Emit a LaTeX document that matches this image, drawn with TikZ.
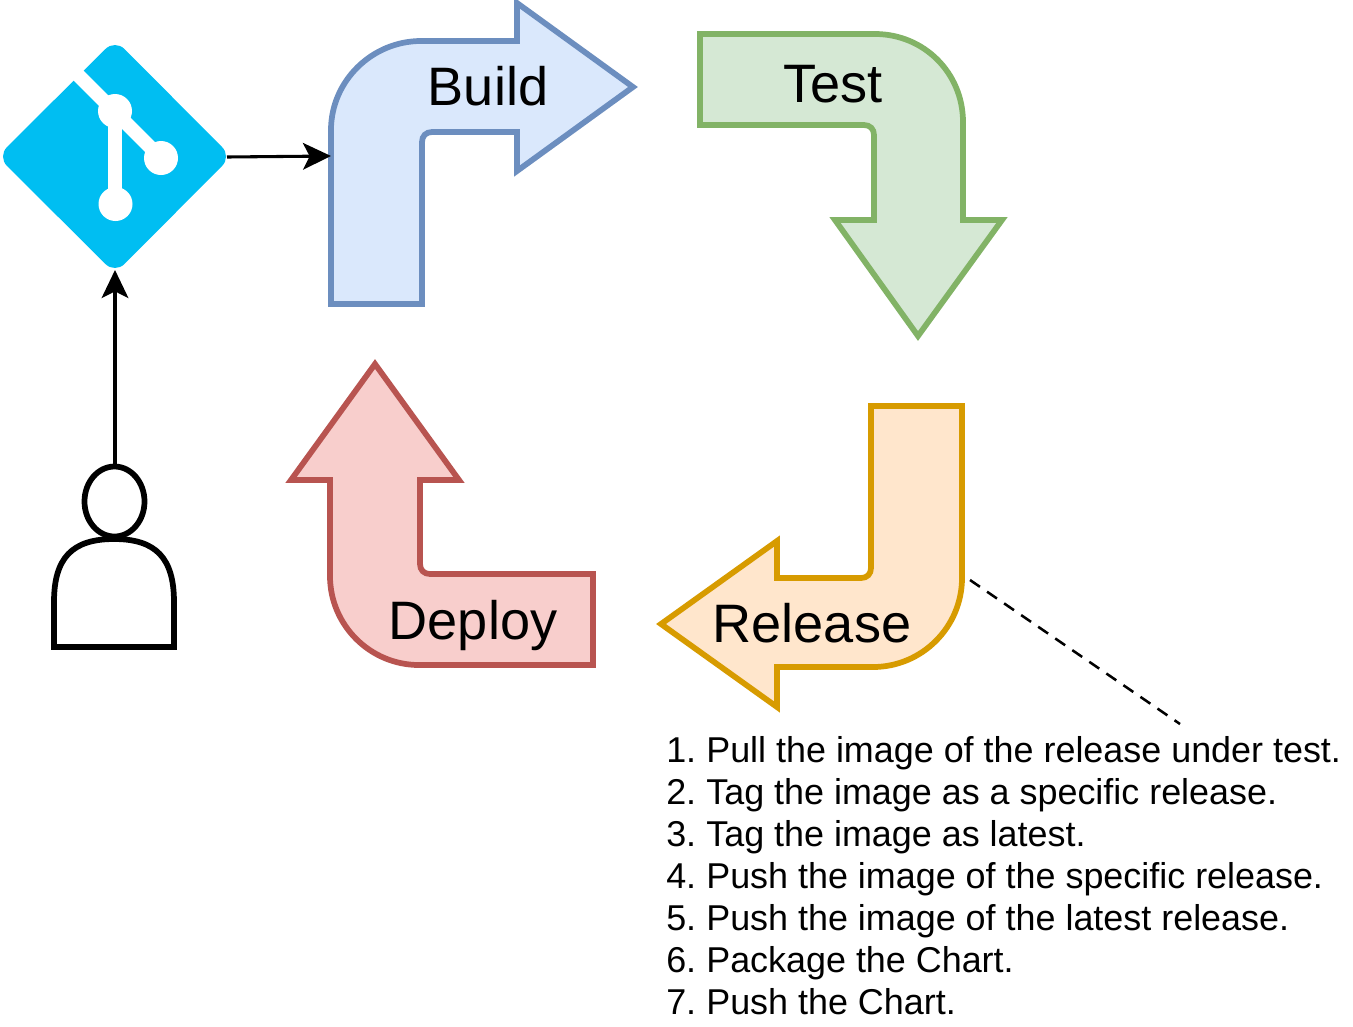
\documentclass[tikz,border=0pt]{standalone}
\usepackage{fontspec}
\setmainfont{Liberation Sans}
\usetikzlibrary{arrows.meta}
\definecolor{gitblue}{HTML}{00BEF2}
\definecolor{bfill}{HTML}{DAE8FC}\definecolor{bline}{HTML}{6C8EBF}
\definecolor{gfill}{HTML}{D5E8D4}\definecolor{gline}{HTML}{82B366}
\definecolor{ofill}{HTML}{FFE6CC}\definecolor{oline}{HTML}{D79B00}
\definecolor{rfill}{HTML}{F8CECC}\definecolor{rline}{HTML}{B85450}
\newcommand{\stepgap}{\hspace{-2.4pt}}
\tikzset{
  bent/.style={line width=4.3pt,line join=miter,miter limit=10},
  lbl/.style={anchor=base,inner sep=0pt,font=\fontsize{40.6}{48}\selectfont},
  conn/.style={line width=2.3pt,-{Stealth[length=21pt,width=20pt,inset=5pt]}},
  personline/.style={line width=4.3pt,draw=black},
}
\begin{document}
\begin{tikzpicture}[x=0.75pt,y=-0.75pt]
\useasboundingbox (0,0) rectangle (1353,1026);
% git logo
\fill[gitblue,rounded corners=10pt] (115,39.5) -- (231.5,156.5) -- (115,273.5) -- (-2.5,156.5) -- cycle;
\draw[white,line width=10.5pt] (74,71) -- (161,158);
\draw[white,line width=10pt] (115,111) -- (115,204);
\fill[white] (115,111) circle (17) (161,158) circle (17) (115.5,204) circle (17);
\node[inner sep=0pt,minimum size=0pt] (git) at (115,156.5) {};
\coordinate (gitE) at (227,157);
\coordinate (gitS) at (115,270);
% Build
\draw[bent,draw=bline,fill=bfill] (331,304) -- (331,130) .. controls (331,81) and (372,41) .. (421,41) -- (517,41) -- (517,3) -- (633,87) -- (517,171) -- (517,132) -- (432,132) .. controls (426,132) and (422,136) .. (422,142) -- (422,304) -- cycle;
\coordinate (buildW) at (331,156);
\node[lbl] (build) at (488,105) {Build};
% Test
\draw[bent,draw=gline,fill=gfill] (700,34) -- (875,34) .. controls (924,34) and (963,73) .. (963,122) -- (963,220) -- (1002,220) -- (918,336) -- (835,220) -- (874,220) -- (874,135) .. controls (874,129) and (870,125) .. (864,125) -- (700,125) -- cycle;
\node[lbl] (test) at (833,102) {Test};
% Release
\draw[bent,draw=oline,fill=ofill] (871,406) -- (962,406) -- (962,578) .. controls (962,627) and (922,667) .. (873,667) -- (777,667) -- (777,707) -- (661,624) -- (777,541) -- (777,578) -- (861,578) .. controls (867,578) and (871,574) .. (871,568) -- cycle;
\node[lbl] (release) at (812,642) {Release};
\coordinate (relA) at (970,580);
% Deploy
\draw[bent,draw=rline,fill=rfill] (593,574) -- (593,665) -- (419,665) .. controls (370,665) and (330,625) .. (330,576) -- (330,480) -- (291,480) -- (375,364) -- (459,480) -- (420,480) -- (420,564) .. controls (420,570) and (424,574) .. (430,574) -- cycle;
\node[lbl] (deploy) at (473,639) {Deploy};
% person
\draw[personline,fill=white] (54,647) -- (54,602) .. controls (54,558) and (72,539) .. (114,539) .. controls (156,539) and (174,558) .. (174,602) -- (174,647) -- cycle;
\draw[personline,fill=white] (114.5,501.5) ellipse (30 and 35);
\coordinate (personTop) at (115,466);
% connectors
\draw[conn] (gitE) -- (buildW);
\draw[conn] (personTop) -- (gitS);
% list
\coordinate (note) at (1180,724);
\draw[line width=1.9pt,dash pattern=on 9pt off 6.5pt] (relA) -- (note);
\node[anchor=north west,inner sep=0pt,align=left,font=\fontsize{26.93}{31.5}\selectfont] (steps) at (666,736) {1.\stepgap{} Pull the image of the release under test.\\2.\stepgap{} Tag the image as a specific release.\\3.\stepgap{} Tag the image as latest.\\4.\stepgap{} Push the image of the specific release.\\5.\stepgap{} Push the image of the latest release.\\6.\stepgap{} Package the Chart.\\7.\stepgap{} Push the Chart.};
\end{tikzpicture}
\end{document}
